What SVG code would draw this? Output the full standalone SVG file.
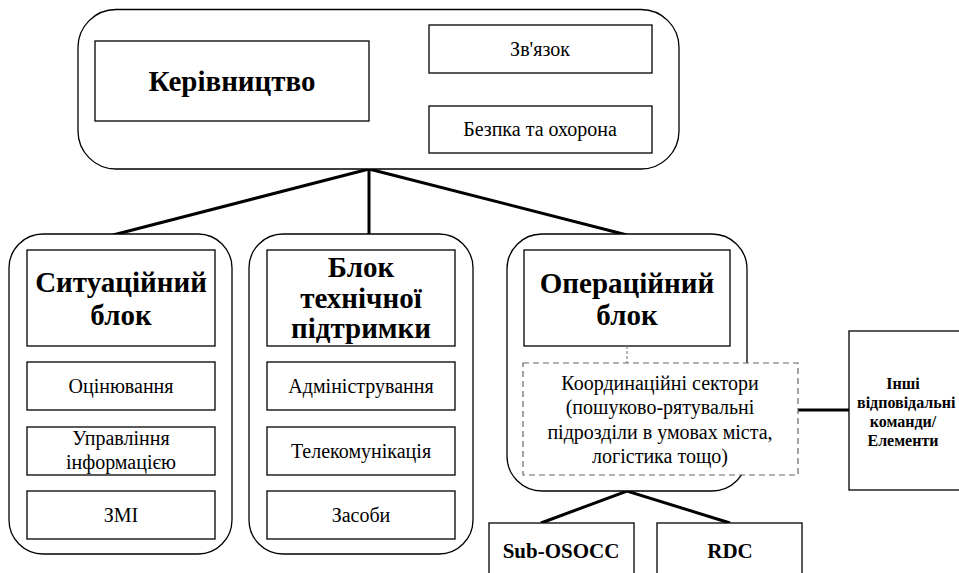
<svg xmlns="http://www.w3.org/2000/svg" width="959" height="573" viewBox="0 0 959 573">
<style>
.grp{fill:#fff;stroke:#000;stroke-width:1.3}
.box{fill:#fff;stroke:#000;stroke-width:1.3}
.dash{fill:#fff;stroke:#666;stroke-width:1.2;stroke-dasharray:6 4}
.con{fill:none;stroke:#000;stroke-width:3}
.dcon{fill:none;stroke:#888;stroke-width:1.2;stroke-dasharray:3 2}
text{font-family:Liberation Serif,Tinos,Times New Roman,Times,DejaVu Serif,Noto Serif,serif;fill:#000;text-anchor:middle}
.t{font-size:29px;font-weight:bold}
.s{font-size:20px}
.b{font-size:16px;font-weight:bold}
.m{font-size:21px;font-weight:bold}
</style>
<rect width="959" height="573" fill="#fff"/>
<g id="connectors">
<polyline class="con" points="429,43 369,89 429,138"/>
<line class="con" x1="369" y1="169" x2="369" y2="234"/>
<line class="con" x1="369" y1="169" x2="113" y2="235"/>
<line class="con" x1="369" y1="169" x2="627" y2="235"/>
<line class="con" x1="798" y1="410" x2="849" y2="410"/>
<polyline class="con" points="541,523 627,491 730,523"/>
</g>
<g id="top-group">
<rect class="grp" x="78" y="9.5" width="601" height="159.5" rx="38"/>
</g>
<g id="kerivnytstvo">
<rect class="box" x="95" y="41" width="274" height="80"/>
<text class="t" x="232" y="91">Керівництво</text>
</g>
<g id="zviazok">
<rect class="box" x="429" y="25" width="223" height="48"/>
<text class="s" x="540" y="56">Зв'язок</text>
</g>
<g id="bezpeka">
<rect class="box" x="429" y="106" width="223" height="47"/>
<text class="s" x="540" y="136">Безпка та охорона</text>
</g>
<g id="sytuatsiinyi">
<rect class="grp" x="9" y="234" width="223" height="320" rx="34"/>
<rect class="box" x="27" y="250" width="188" height="96"/>
<text class="t" x="121" y="292">Ситуаційний</text>
<text class="t" x="121" y="325">блок</text>
</g>
<g id="otsiniuvannia">
<rect class="box" x="27" y="362" width="188" height="48"/>
<text class="s" x="121" y="393">Оцінювання</text>
</g>
<g id="upravlinnia">
<rect class="box" x="27" y="427" width="188" height="48"/>
<text class="s" x="121" y="445">Управління</text>
<text class="s" x="121" y="469">інформацією</text>
</g>
<g id="zmi">
<rect class="box" x="27" y="491" width="188" height="48"/>
<text class="s" x="121" y="522">ЗМІ</text>
</g>
<g id="tekhnichna">
<rect class="grp" x="249" y="234" width="224" height="320" rx="34"/>
<rect class="box" x="267" y="250" width="188" height="96"/>
<text class="t" x="361" y="277">Блок</text>
<text class="t" x="361" y="308">технічної</text>
<text class="t" x="361" y="338">підтримки</text>
</g>
<g id="administruvannia">
<rect class="box" x="267" y="362" width="188" height="48"/>
<text class="s" x="361" y="393">Адміністрування</text>
</g>
<g id="telekomunikatsiia">
<rect class="box" x="267" y="427" width="188" height="48"/>
<text class="s" x="361" y="458">Телекомунікація</text>
</g>
<g id="zasoby">
<rect class="box" x="267" y="491" width="188" height="48"/>
<text class="s" x="361" y="522">Засоби</text>
</g>
<g id="operatsiinyi">
<rect class="grp" x="507" y="234" width="240" height="257" rx="35"/>
<rect class="box" x="524" y="250" width="206" height="96"/>
<text class="t" x="627" y="293">Операційний</text>
<text class="t" x="627" y="325">блок</text>
<line class="dcon" x1="627" y1="346" x2="627" y2="363"/>
</g>
<g id="koordynatsiini">
<rect class="dash" x="523" y="363" width="275" height="112"/>
<text class="s" x="660" y="390">Координаційні сектори</text>
<text class="s" x="660" y="414">(пошуково-рятувальні</text>
<text class="s" x="660" y="439">підрозділи в умовах міста,</text>
<text class="s" x="660" y="463">логістика тощо)</text>
</g>
<g id="inshi">
<rect class="box" x="849" y="331" width="130" height="159"/>
<text class="b" x="903" y="389">Інші</text>
<text class="b" x="857" y="408" style="text-anchor:start">відповідальні</text>
<text class="b" x="903" y="427">команди/</text>
<text class="b" x="903" y="446">Елементи</text>
</g>
<g id="sub-osocc">
<rect class="box" x="489" y="523" width="145" height="70"/>
<text class="m" x="561" y="558">Sub-OSOCC</text>
</g>
<g id="rdc">
<rect class="box" x="657" y="523" width="145" height="70"/>
<text class="m" x="730" y="558">RDC</text>
</g>
</svg>
